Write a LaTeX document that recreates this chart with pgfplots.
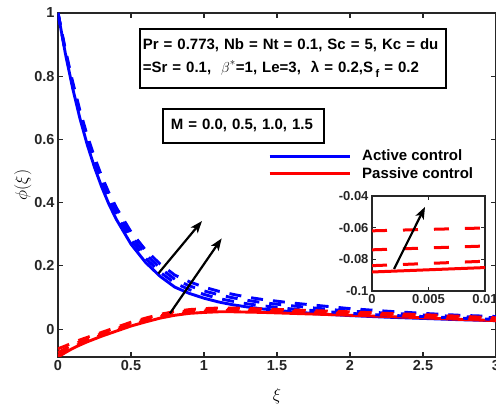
\documentclass[border=0pt]{standalone}
\usepackage{pgfplots}
\pgfplotsset{compat=1.18}
\usepackage{pgfplotstable}
\usepackage{fontspec}
\setmainfont{Liberation Sans}
\usetikzlibrary{arrows.meta}

\definecolor{mblue}{rgb}{0,0,1}
\definecolor{mred}{rgb}{1,0,0}
\definecolor{axgray}{rgb}{0.15,0.15,0.15}

% Active control (blue): S = M=0.0, D1..D3 = M=0.5,1.0,1.5
\pgfplotstableread{
x     S      D1     D2     D3
0     1.000  1.000  1.000  1.000
0.05  0.873  0.877  0.881  0.885
0.1   0.763  0.770  0.776  0.783
0.15  0.667  0.676  0.684  0.692
0.2   0.584  0.594  0.604  0.613
0.25  0.512  0.523  0.533  0.544
0.3   0.449  0.460  0.472  0.483
0.35  0.394  0.406  0.418  0.430
0.4   0.347  0.359  0.372  0.384
0.5   0.269  0.282  0.295  0.308
0.6   0.211  0.224  0.237  0.250
0.7   0.167  0.180  0.193  0.206
0.8   0.133  0.146  0.158  0.171
0.9   0.113  0.125  0.137  0.150
1.0   0.098  0.110  0.121  0.133
1.1   0.086  0.097  0.109  0.120
1.2   0.077  0.088  0.099  0.110
1.3   0.070  0.080  0.091  0.101
1.4   0.064  0.074  0.084  0.094
1.6   0.055  0.064  0.074  0.083
1.8   0.048  0.057  0.065  0.074
2.0   0.043  0.050  0.057  0.065
2.25  0.038  0.044  0.051  0.057
2.5   0.034  0.040  0.045  0.050
2.75  0.030  0.035  0.040  0.044
3.0   0.027  0.031  0.036  0.040
}\bluedata

% Passive control (red)
\pgfplotstableread{
x     R       D1      D2      D3
0     -0.088  -0.084  -0.074  -0.062
0.05  -0.074  -0.070  -0.062  -0.053
0.1   -0.061  -0.057  -0.050  -0.043
0.15  -0.050  -0.046  -0.040  -0.034
0.2   -0.040  -0.036  -0.031  -0.026
0.3   -0.022  -0.018  -0.014  -0.010
0.4   -0.006  -0.002   0.002   0.006
0.5    0.010   0.014   0.018   0.022
0.6    0.023   0.027   0.031   0.035
0.7    0.035   0.039   0.043   0.047
0.8    0.044   0.048   0.052   0.056
0.9    0.050   0.054   0.058   0.062
1.0    0.053   0.057   0.061   0.065
1.1    0.055   0.059   0.063   0.067
1.2    0.055   0.059   0.063   0.067
1.4    0.053   0.057   0.061   0.064
1.6    0.050   0.054   0.057   0.061
1.8    0.047   0.051   0.054   0.058
2.0    0.044   0.048   0.051   0.055
2.25   0.040   0.044   0.047   0.050
2.5    0.036   0.039   0.043   0.046
2.75   0.031   0.034   0.038   0.041
3.0    0.027   0.030   0.033   0.036
}\reddata

\begin{document}
\begin{tikzpicture}
\begin{axis}[
  name=main,
  at={(0pt,0pt)}, anchor=south west,
  scale only axis, width=438pt, height=344pt,
  xmin=0, xmax=3, ymin=-0.088, ymax=1,
  xtick={0,0.5,1,1.5,2,2.5,3}, xticklabels={0,0.5,1,1.5,2,2.5,3},
  ytick={0,0.2,0.4,0.6,0.8,1}, yticklabels={0,0.2,0.4,0.6,0.8,1},
  tick align=inside, major tick length=5pt,
  every tick/.style={line width=1.1pt, axgray},
  axis line style={line width=1.2pt, axgray},
  tick label style={font=\bfseries\fontsize{14.5}{17}\selectfont, text=axgray},
  xlabel={$\xi$}, ylabel={$\phi(\xi)$},
  label style={font=\fontsize{16.5}{18}\selectfont},
  xlabel style={yshift=-11pt},
  ylabel style={yshift=-4pt},
  legend entries={Active control, Passive control},
  legend image code/.code={\draw[#1, line width=3pt] (0pt,0pt) -- (80pt,0pt);},
  legend style={at={(axis description cs:0.4795,0.608)}, anchor=north west,
    draw=none, fill=none, inner xsep=0pt, inner ysep=0pt, row sep=1pt,
    font=\bfseries\fontsize{15}{18}\selectfont,
    /tikz/every odd column/.append style={column sep=9pt}},
  legend cell align=left,
]
\addplot[mblue, line width=2.9pt] table[x=x, y=S] {\bluedata};
\addplot[mred, line width=2.9pt] table[x=x, y=R] {\reddata};
\addplot[mblue, line width=2.9pt, dash pattern=on 12pt off 10pt] table[x=x, y=D1] {\bluedata};
\addplot[mred, line width=2.9pt, dash pattern=on 12pt off 10pt] table[x=x, y=D1] {\reddata};
\addplot[mblue, line width=2.9pt, dash pattern=on 12pt off 10pt] table[x=x, y=D2] {\bluedata};
\addplot[mred, line width=2.9pt, dash pattern=on 12pt off 10pt] table[x=x, y=D2] {\reddata};
\addplot[mblue, line width=2.9pt, dash pattern=on 12pt off 10pt] table[x=x, y=D3] {\bluedata};
\addplot[mred, line width=2.9pt, dash pattern=on 12pt off 10pt] table[x=x, y=D3] {\reddata};

\draw[line width=2.2pt, -{Stealth[length=12pt, width=9pt, inset=3pt]}] (axis cs:0.687,0.176) -- (axis cs:0.986,0.342);
\draw[line width=2.2pt, -{Stealth[length=12pt, width=9pt, inset=3pt]}] (axis cs:0.767,0.050) -- (axis cs:1.121,0.287);

\node[draw, line width=1.6pt, fill=white, anchor=north west, inner xsep=3pt, inner ysep=0pt,
  text width=300pt, minimum height=59pt, align=left,
  font=\bfseries\fontsize{15}{23}\selectfont] at (rel axis cs:0.185,0.9564)
  {Pr = 0.773, Nb = Nt = 0.1, Sc = 5, Kc = du\\
   =Sr = 0.1, \ $\beta^{\raisebox{2pt}{$\scriptstyle *$}}$=1, Le=3, \ λ = 0.2,S\,\raisebox{-5pt}{\fontsize{11}{11}\selectfont f} = 0.2};
\node[draw, line width=1.6pt, fill=white, anchor=north west, inner xsep=8pt, inner ysep=0pt,
  text width=145pt, minimum height=34pt, align=left,
  font=\bfseries\fontsize{15}{18}\selectfont] at (rel axis cs:0.2374,0.7238)
  {M = 0.0, 0.5, 1.0, 1.5};
\end{axis}

\begin{axis}[
  at={(314pt,66pt)}, anchor=south west,
  scale only axis, width=113pt, height=95pt,
  xmin=0, xmax=0.01, ymin=-0.1, ymax=-0.04,
  scaled x ticks=false, scaled y ticks=false,
  xtick={0,0.005,0.01}, xticklabels={0,0.005,0.01},
  ytick={-0.1,-0.08,-0.06,-0.04}, yticklabels={-0.1,-0.08,-0.06,-0.04},
  tick align=inside, major tick length=4pt,
  every tick/.style={line width=1pt, axgray},
  axis line style={line width=1.1pt, axgray},
  tick label style={font=\bfseries\fontsize{13}{15}\selectfont, text=axgray},
  axis background/.style={fill=white},
  restrict x to domain=0:0.05,
]
\addplot[mred, line width=3pt] table[x=x, y=R] {\reddata};
\addplot[mred, line width=3pt, dash pattern=on 15pt off 16pt] table[x=x, y=D1] {\reddata};
\addplot[mred, line width=3pt, dash pattern=on 15pt off 16pt] table[x=x, y=D2] {\reddata};
\addplot[mred, line width=3pt, dash pattern=on 15pt off 16pt] table[x=x, y=D3] {\reddata};
\draw[line width=2.2pt, -{Stealth[length=12pt, width=9pt, inset=3pt]}] (axis cs:0.00195,-0.0861) -- (axis cs:0.00469,-0.0469);
\end{axis}
\pgfresetboundingbox
\path[use as bounding box] (-58pt,-50pt) rectangle (438pt,357pt);
\end{tikzpicture}
\end{document}
